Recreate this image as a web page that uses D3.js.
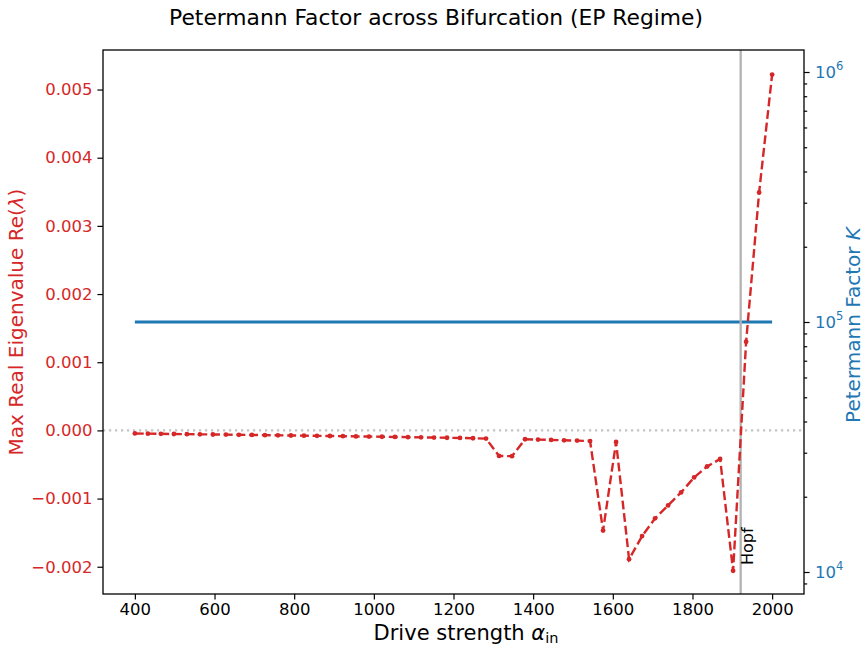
<!DOCTYPE html>
<html>
<head>
<meta charset="utf-8">
<script src="https://cdn.jsdelivr.net/npm/d3@7"></script>
<style>
  body { margin: 0; background: #fff; }
  svg, svg text { font-family: "DejaVu Sans", sans-serif; }
</style>
</head>
<body>
<div id="chart"></div>
<script>
// Data
const alphaIn = [
  400, 432.7, 465.3, 498.0, 530.6, 563.3, 595.9, 628.6, 661.2, 693.9,
  726.5, 759.2, 791.8, 824.5, 857.1, 889.8, 922.4, 955.1, 987.8, 1020.4,
  1053.1, 1085.7, 1118.4, 1151.0, 1183.7, 1216.3, 1249.0, 1281.6, 1314.3, 1346.9,
  1379.6, 1412.2, 1444.9, 1477.6, 1510.2, 1542.9, 1575.5, 1608.2, 1640.8, 1673.5,
  1706.1, 1738.8, 1771.4, 1804.1, 1836.7, 1869.4, 1902.0, 1934.7, 1967.3, 2000
];
const maxReEig = [
  -0.000045, -0.000048, -0.00005, -0.000053, -0.000055, -0.000058, -0.00006, -0.000062, -0.000065, -0.000067,
  -0.00007, -0.000072, -0.000075, -0.000077, -0.00008, -0.000082, -0.000085, -0.000088, -0.00009, -0.000093,
  -0.000096, -0.000099, -0.000102, -0.000105, -0.000108, -0.000111, -0.000115, -0.00012, -0.000375, -0.000378,
  -0.00013, -0.000135, -0.00014, -0.000145, -0.00015, -0.000157, -0.00147, -0.00017, -0.00189, -0.00155,
  -0.00129, -0.0011, -0.00091, -0.00069, -0.00053, -0.00042, -0.00206, 0.0013, 0.00349, 0.00522
];
const petermannK = [
  1e5, 1e5, 1e5, 1e5, 1e5, 1e5, 1e5, 1e5, 1e5, 1e5,
  1e5, 1e5, 1e5, 1e5, 1e5, 1e5, 1e5, 1e5, 1e5, 1e5,
  1e5, 1e5, 1e5, 1e5, 1e5, 1e5, 1e5, 1e5, 1e5, 1e5,
  1e5, 1e5, 1e5, 1e5, 1e5, 1e5, 1e5, 1e5, 1e5, 1e5,
  1e5, 1e5, 1e5, 1e5, 1e5, 1e5, 1e5, 1e5, 1e5, 1e5
];
const xTicks = [400, 600, 800, 1000, 1200, 1400, 1600, 1800, 2000];
const leftTicks = [-0.002, -0.001, 0, 0.001, 0.002, 0.003, 0.004, 0.005];
const rightTicks = [1e4, 1e5, 1e6];
const hopfAlpha = 1921;

// Graph Dimensions
const width = 865;
const height = 646;
const margin = { top: 50, bottom: 52, left: 103, right: 61 };

const red = "#d62728";
const blue = "#1f77b4";
const font = "DejaVu Sans, sans-serif";
const tickFont = 16.5;
const labelFont = 20;

const svg = d3.select("#chart").append("svg")
  .attr("width", width)
  .attr("height", height)
  .attr("font-family", font);

// scales
const xScale = d3.scaleLinear()
  .domain([320, 2080])
  .range([margin.left, width - margin.right]);

const yScale = d3.scaleLinear()
  .domain([-0.0024, 0.00558])
  .range([height - margin.bottom, margin.top]);

const kScale = d3.scaleLog()
  .domain([Math.pow(10, 3.912), Math.pow(10, 6.088)])
  .range([height - margin.bottom, margin.top]);

const fmtMinus = (v) => d3.format(".3f")(v).replace("-", "\u2212");

// zero line
svg.append("line")
  .attr("x1", margin.left).attr("x2", width - margin.right)
  .attr("y1", yScale(0)).attr("y2", yScale(0))
  .attr("stroke", "#c4c4c4")
  .attr("stroke-width", 2.2)
  .attr("stroke-dasharray", "2.2,3.8");

// Petermann factor (right axis)
svg.append("path")
  .datum(alphaIn.map((a, i) => [a, petermannK[i]]))
  .attr("fill", "none")
  .attr("stroke", blue)
  .attr("stroke-width", 3)
  .attr("d", d3.line().x((d) => xScale(d[0])).y((d) => kScale(d[1])));

// Hopf marker
svg.append("line")
  .attr("x1", xScale(hopfAlpha)).attr("x2", xScale(hopfAlpha))
  .attr("y1", margin.top).attr("y2", height - margin.bottom)
  .attr("stroke", "#b3b3b3")
  .attr("stroke-width", 2.3);

svg.append("text")
  .attr("transform", `translate(${xScale(hopfAlpha) + 12},565) rotate(-90)`)
  .attr("font-size", 16)
  .attr("fill", "#000")
  .text("Hopf");

// eigenvalue line
const eigData = alphaIn.map((a, i) => [a, maxReEig[i]]);
svg.append("path")
  .datum(eigData)
  .attr("fill", "none")
  .attr("stroke", red)
  .attr("stroke-width", 2.4)
  .attr("stroke-dasharray", "8.9,3.8")
  .attr("d", d3.line().x((d) => xScale(d[0])).y((d) => yScale(d[1])));

svg.selectAll("circle.eig")
  .data(eigData)
  .enter()
  .append("circle")
  .attr("class", "eig")
  .attr("cx", (d) => xScale(d[0]))
  .attr("cy", (d) => yScale(d[1]))
  .attr("r", 2.4)
  .attr("fill", red);

// Axes
const xAxis = svg.append("g")
  .attr("transform", `translate(0,${height - margin.bottom})`)
  .call(d3.axisBottom(xScale).tickValues(xTicks).tickFormat(d3.format("d")).tickSize(5.6).tickPadding(4));

const yAxis = svg.append("g")
  .attr("transform", `translate(${margin.left},0)`)
  .call(d3.axisLeft(yScale).tickValues(leftTicks).tickFormat(fmtMinus).tickSize(5.6).tickPadding(5));

const minorK = [];
[1e3, 1e4, 1e5, 1e6].forEach((dec) => {
  for (let m = 2; m <= 9; m++) minorK.push(dec * m);
});
const kDomain = kScale.domain();
svg.append("g")
  .attr("transform", `translate(${width - margin.right},0)`)
  .call(d3.axisRight(kScale)
    .tickValues(minorK.filter((v) => v >= kDomain[0] && v <= kDomain[1]))
    .tickSize(3.2).tickFormat(""))
  .call((g) => g.select(".domain").remove());

const kAxis = svg.append("g")
  .attr("transform", `translate(${width - margin.right},0)`)
  .call(d3.axisRight(kScale).tickValues(rightTicks).tickSize(5.6).tickPadding(5).tickFormat(""));

kAxis.selectAll(".tick")
  .append("text")
  .attr("x", 11)
  .attr("dy", "0.35em")
  .attr("fill", blue)
  .attr("font-size", tickFont)
  .attr("text-anchor", "start")
  .call((t) => {
    t.append("tspan").text("10");
    t.append("tspan")
      .attr("font-size", 11.5)
      .attr("dy", "-0.75em")
      .text((d) => Math.round(Math.log10(d)));
  });

svg.selectAll("g").attr("font-family", font);
[xAxis, yAxis].forEach((g) => g.selectAll(".tick text").attr("font-size", tickFont));
xAxis.selectAll(".tick text").attr("fill", "#000");
yAxis.selectAll(".tick text").attr("fill", red);
svg.selectAll(".tick line").attr("stroke", "#000").attr("stroke-width", 1.2);
svg.selectAll(".domain").attr("stroke", "none");

// frame
svg.append("rect")
  .attr("x", margin.left)
  .attr("y", margin.top)
  .attr("width", width - margin.left - margin.right)
  .attr("height", height - margin.top - margin.bottom)
  .attr("fill", "none")
  .attr("stroke", "#000")
  .attr("stroke-width", 1.3);

// Labels
svg.append("text")
  .attr("x", 436)
  .attr("y", 25)
  .attr("text-anchor", "middle")
  .attr("font-size", 21.8)
  .text("Petermann Factor across Bifurcation (EP Regime)");

const xLabel = svg.append("text")
  .attr("x", 466)
  .attr("y", 640)
  .attr("text-anchor", "middle")
  .attr("font-size", 21);
xLabel.append("tspan").text("Drive strength ");
xLabel.append("tspan").attr("font-style", "italic").text("\u03b1");
xLabel.append("tspan").attr("font-size", 14.5).attr("dy", 2.5).text("in");

const yLabel = svg.append("text")
  .attr("transform", `translate(22.5,${(margin.top + height - margin.bottom) / 2}) rotate(-90)`)
  .attr("text-anchor", "middle")
  .attr("font-size", labelFont)
  .attr("fill", red);
yLabel.append("tspan").text("Max Real Eigenvalue Re(");
yLabel.append("tspan").attr("font-style", "italic").text("\u03bb");
yLabel.append("tspan").text(")");

const kLabel = svg.append("text")
  .attr("transform", `translate(860,${(margin.top + height - margin.bottom) / 2 + 3}) rotate(-90)`)
  .attr("text-anchor", "middle")
  .attr("font-size", labelFont)
  .attr("fill", blue);
kLabel.append("tspan").text("Petermann Factor ");
kLabel.append("tspan").attr("font-style", "italic").text("K");
</script>
</body>
</html>
